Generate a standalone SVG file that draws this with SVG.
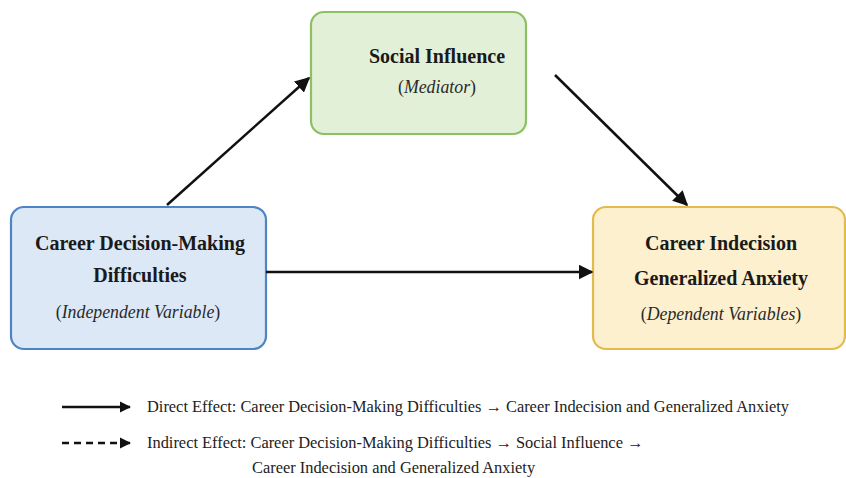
<svg xmlns="http://www.w3.org/2000/svg" width="846" height="478" viewBox="0 0 846 478">
<style>
.b{font-family:"Liberation Serif","Times New Roman",serif;font-weight:bold;font-size:20px;fill:#1a1a1a;text-anchor:middle}
.i{font-family:"Liberation Serif","Times New Roman",serif;font-size:17.8px;fill:#2a2a2a;text-anchor:middle}
.i tspan.it{font-style:italic}
.l{font-family:"Liberation Serif","Times New Roman",serif;font-size:16.4px;fill:#222}
.c{stroke:#111;stroke-width:2.5;fill:none}
</style>
<defs>
<marker id="ah" viewBox="0 0 10 10" refX="9" refY="5" markerWidth="6" markerHeight="6" markerUnits="strokeWidth" orient="auto">
<path d="M0,0 L10,5 L0,10 z" fill="#111"/>
</marker>
<marker id="ah2" viewBox="0 0 10 10" refX="9" refY="5" markerWidth="4.5" markerHeight="4.5" markerUnits="strokeWidth" orient="auto">
<path d="M0,0 L10,5 L0,10 z" fill="#111"/>
</marker>
</defs>
<rect width="846" height="478" fill="#ffffff"/>
<g id="mediator">
<rect x="311" y="12" width="215" height="122" rx="13" fill="#e3f0d8" stroke="#8cc063" stroke-width="2.2"/>
<text class="b" x="437" y="63">Social Influence</text>
<text class="i" x="437" y="93">(<tspan class="it">Mediator</tspan>)</text>
</g>
<g id="independent">
<rect x="11" y="207" width="255" height="142" rx="13" fill="#dce8f6" stroke="#4d84c4" stroke-width="2.2"/>
<text class="b" x="140" y="250">Career Decision-Making</text>
<text class="b" x="140" y="282">Difficulties</text>
<text class="i" x="138" y="318">(<tspan class="it">Independent Variable</tspan>)</text>
</g>
<g id="dependent">
<rect x="593" y="207" width="252" height="142" rx="13" fill="#fcf0cf" stroke="#e3ba4e" stroke-width="2.2"/>
<text class="b" x="721" y="250">Career Indecision</text>
<text class="b" x="721" y="285">Generalized Anxiety</text>
<text class="i" x="721" y="320">(<tspan class="it">Dependent Variables</tspan>)</text>
</g>
<g id="connectors">
<line class="c" x1="167" y1="205" x2="309" y2="78" marker-end="url(#ah)"/>
<line class="c" x1="555" y1="75" x2="687" y2="205" marker-end="url(#ah)"/>
<line class="c" x1="266" y1="272" x2="592" y2="272" marker-end="url(#ah)"/>
</g>
<g id="legend">
<line class="c" x1="62" y1="407" x2="130" y2="407" marker-end="url(#ah2)"/>
<text class="l" x="147" y="412">Direct Effect: Career Decision-Making Difficulties → Career Indecision and Generalized Anxiety</text>
<line class="c" x1="62" y1="443" x2="122" y2="443" stroke-dasharray="7,5"/>
<line class="c" x1="122" y1="443" x2="130" y2="443" marker-end="url(#ah2)"/>
<text class="l" x="147" y="448">Indirect Effect: Career Decision-Making Difficulties → Social Influence →</text>
<text class="l" x="252" y="473">Career Indecision and Generalized Anxiety</text>
</g>
</svg>
